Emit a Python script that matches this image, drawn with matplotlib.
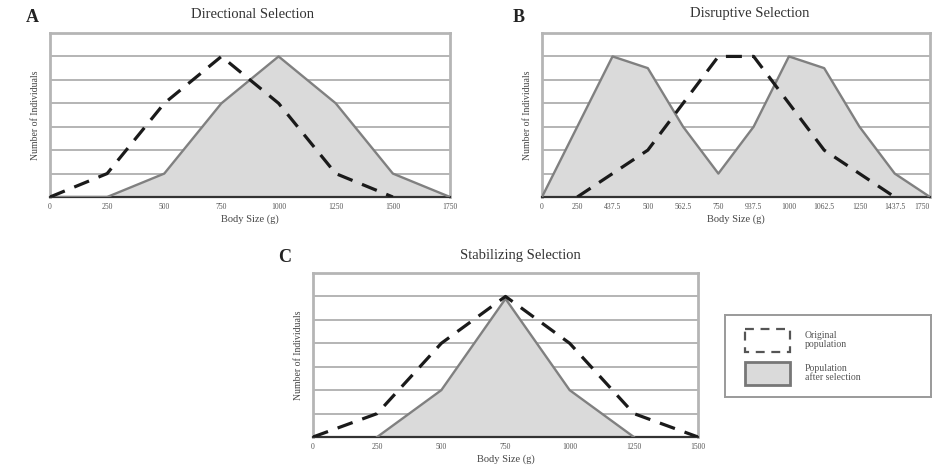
import matplotlib
matplotlib.use("Agg")
import matplotlib.pyplot as plt
from matplotlib.patches import Rectangle
import numpy as np

plt.rcParams['font.family'] = ['Liberation Serif', 'DejaVu Serif']

# ---- data ----
a_labels = ["0", "250", "500", "750", "1000", "1250", "1500", "1750"]
a_original = [0, 1, 4, 6, 4, 1, 0, np.nan]
a_after = [0, 0, 1, 4, 6, 4, 1, 0]

b_labels = ["0", "250", "437.5", "500", "562.5", "750", "937.5", "1000",
            "1062.5", "1250", "1437.5", "1750"]
b_original = [np.nan, 0, 1, 2, 4, 6, 6, 4, 2, 1, 0, np.nan]
b_after = [0, 3, 6, 5.5, 3, 1, 3, 6, 5.5, 3, 1, 0]

c_labels = ["0", "250", "500", "750", "1000", "1250", "1500"]
c_original = [0, 1, 4, 6, 4, 1, 0]
c_after = [np.nan, 0, 2, 5.9, 2, 0, np.nan]

titles = ["Directional Selection", "Disruptive Selection", "Stabilizing Selection"]
letters = ["A", "B", "C"]
legend_labels = ["Original\npopulation", "Population\nafter selection"]

W, H = 933, 466
fig = plt.figure(figsize=(W / 100, H / 100), dpi=100)

FILL = "#dadada"
EDGE = "#808080"
FRAME = "#b5b5b5"
GRID = "#a8a8a8"


def px_axes(x0, y0, x1, y1):
    return fig.add_axes([x0 / W, 1 - y1 / H, (x1 - x0) / W, (y1 - y0) / H])


def panel(ax, labels, orig, after, title, letter, tx, lx, titley, lettery):
    n = len(labels)
    x = np.arange(n)
    after_arr = np.array(after, dtype=float)
    mask = ~np.isnan(after_arr)
    ax.fill_between(x[mask], 0, after_arr[mask], color=FILL, zorder=2, linewidth=0)
    ax.plot(x[mask], after_arr[mask], color=EDGE, lw=1.7, zorder=3)
    ax.plot(x, orig, color="#1a1a1a", lw=2.3, ls=(0, (5, 3.2)), zorder=4,
            dash_capstyle="butt")
    for g in range(1, 7):
        ax.axhline(g, color=GRID, lw=1.2, zorder=1)
    ax.set_xlim(0, n - 1)
    ax.set_ylim(0, 7)
    ax.set_xticks(x)
    ax.set_xticklabels(labels, fontsize=5.5, color="#555555")
    ax.tick_params(axis="x", length=0, pad=4)
    ax.set_yticks([])
    for s in ["left", "top", "right"]:
        ax.spines[s].set_color(FRAME)
        ax.spines[s].set_linewidth(2)
    ax.spines["bottom"].set_color("#333333")
    ax.spines["bottom"].set_linewidth(1.6)
    ax.set_xlabel("Body Size (g)", fontsize=7.5, color="#444444", labelpad=3)
    ax.set_ylabel("Number of Individuals", fontsize=7, color="#444444", labelpad=7)
    fig.text(tx / W, 1 - titley / H, title, fontsize=10.5, color="#333333",
             ha="center", va="center")
    fig.text(lx / W, 1 - lettery / H, letter, fontsize=13, fontweight="bold",
             color="#222222", ha="center", va="center")
    return ax


axA = px_axes(50, 33, 450, 197)
panel(axA, a_labels, a_original, a_after, titles[0], letters[0], 253, 32, 14, 17)

axB = px_axes(542, 33, 930, 197)
panel(axB, b_labels, b_original, b_after, titles[1], letters[1], 750, 519, 14, 17)
axB.get_xticklabels()[-1].set_horizontalalignment("right")

axC = px_axes(313, 273, 698, 437)
panel(axC, c_labels, c_original, c_after, titles[2], letters[2], 520, 285, 255, 258)

# ---- legend ----
lg = px_axes(725, 315, 931, 397)
lg.set_xlim(0, 206)
lg.set_ylim(82, 0)
lg.set_xticks([])
lg.set_yticks([])
for s in lg.spines.values():
    s.set_color("#9a9a9a")
    s.set_linewidth(1.4)
lg.add_patch(Rectangle((20, 14), 45, 23, facecolor="white", edgecolor="#555555",
                       lw=1.6, ls=(0, (4, 3))))
lg.add_patch(Rectangle((20, 47), 45, 23, facecolor=FILL, edgecolor="#777777", lw=2.0))
lg.text(80, 25, legend_labels[0], fontsize=7, color="#555555", va="center",
        ha="left", linespacing=1.0)
lg.text(80, 58, legend_labels[1], fontsize=7, color="#555555", va="center",
        ha="left", linespacing=1.0)

fig.savefig("out.png", dpi=100)
